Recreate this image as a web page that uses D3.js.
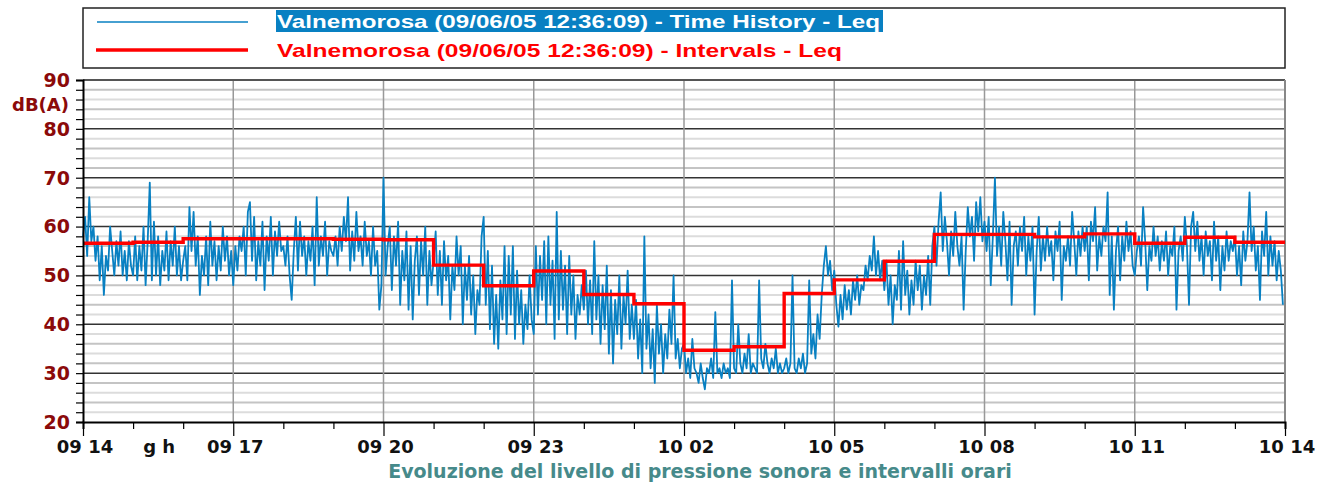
<!DOCTYPE html>
<html>
<head>
<meta charset="utf-8">
<script src="https://cdn.jsdelivr.net/npm/d3@7"></script>
<style>
  body { margin: 0; background: #fff; }
  svg { display: block; }
</style>
</head>
<body>
<div id="chart"></div>
<script>
// hourly tick labels (day hour), from 09 14 to 10 14
const hourLabels = ["09 14", "09 15", "09 16", "09 17", "09 18", "09 19", "09 20", "09 21", "09 22", "09 23",
  "10 00", "10 01", "10 02", "10 03", "10 04", "10 05", "10 06", "10 07", "10 08", "10 09", "10 10",
  "10 11", "10 12", "10 13", "10 14"];

// hourly Leq (red step line), dB(A)
const intervalLeq = [56.6, 56.8, 57.5, 57.5, 57.5, 57.4, 57.3, 52.1, 47.9, 50.9, 46.1, 44.2,
  34.7, 35.4, 46.3, 49.1, 52.9, 58.4, 58.4, 57.9, 58.5, 56.6, 57.8, 56.8];

// time history Leq, 2.5 minute steps (24 per hour), dB(A)
const historyLeq = [
  58, 62, 54, 66, 57, 60, 53, 58, 49, 56, 46, 54, 51, 60, 55, 50, 57, 52, 59, 50, 55, 49, 57, 52,
  50, 58, 49, 56, 51, 60, 48, 57, 69, 49, 61, 50, 58, 48, 55, 51, 59, 49, 57, 52, 60, 50, 56, 49,
  53, 56, 49, 64, 55, 63, 52, 58, 46, 54, 50, 58, 48, 61, 52, 57, 49, 56, 51, 60, 53, 58, 50, 55,
  48, 56, 51, 58, 55, 60, 50, 63, 65, 53, 62, 49, 57, 52, 61, 47, 58, 53, 62, 50, 59, 54, 61, 55,
  56, 52, 58, 50, 45, 55, 62, 51, 61, 54, 58, 50, 57, 53, 60, 48, 66, 52, 58, 54, 61, 50, 57, 55,
  54, 58, 52, 60, 55, 62, 57, 66, 51, 59, 53, 63, 55, 58, 52, 61, 54, 57, 50, 60, 52, 55, 43, 48,
  70, 50, 56, 60, 47, 58, 52, 61, 44, 55, 49, 59, 43, 56, 41, 53, 58, 46, 57, 50, 60, 44, 55, 48,
  53, 59, 46, 55, 44, 57, 49, 54, 41, 52, 47, 58, 50, 56, 40, 52, 45, 54, 42, 50, 38, 47, 44, 58,
  62, 44, 55, 39, 52, 36, 46, 35, 49, 41, 56, 38, 54, 42, 56, 37, 51, 40, 47, 36, 44, 39, 50, 41,
  38, 56, 42, 54, 45, 57, 40, 58, 44, 53, 37, 63, 41, 55, 43, 52, 38, 54, 42, 50, 37, 46, 42, 48,
  43, 51, 40, 49, 38, 57, 41, 50, 36, 48, 39, 52, 34, 47, 32, 45, 38, 50, 35, 46, 40, 51, 37, 44,
  37, 45, 33, 41, 30, 58, 35, 42, 31, 39, 28, 44, 34, 40, 30, 38, 33, 43, 36, 50, 33, 37, 31, 35,
  36, 30, 33, 29, 37, 31, 30, 28, 32, 29, 26.7, 31, 30, 33, 29, 42.5, 30, 31, 29, 32, 30, 31, 29, 49,
  31, 30, 40, 32, 30, 34, 31, 38, 30, 32, 31, 30, 49, 33, 31, 36, 32, 30, 33, 31, 35, 30, 32, 30,
  31, 33, 30, 32, 50, 31, 30, 33, 31, 34, 30, 32, 49, 34, 38, 33, 42, 37, 46, 52, 56, 50, 53, 47,
  51, 44, 39.5, 46, 41, 48, 43, 47, 42, 49, 45, 50, 44, 48, 47, 52, 49, 54, 51, 58, 50, 55, 49, 53,
  47, 53, 44, 50, 40, 48, 45, 55, 43, 57, 46, 51, 42, 49, 44, 53, 47, 52, 43, 50, 46, 54, 44, 56,
  60, 52, 61, 67, 55, 62, 57, 50, 59, 54, 63, 56, 52, 58, 43, 55, 64, 58, 62, 53, 65, 59, 66, 57,
  61, 55, 62, 48, 58, 70, 54, 60, 52, 63, 57, 49, 61, 44, 56, 59, 52, 60, 55, 62, 50, 58, 53, 60,
  42, 55, 62, 51, 58, 53, 60, 54, 57, 49, 59, 55, 61, 45, 56, 53, 58, 52, 63, 57, 50, 59, 54, 60,
  55, 60, 49, 61, 57, 64, 51, 58, 54, 60, 57, 67, 46, 58, 43, 55, 60, 49, 58, 53, 61, 55, 59, 52,
  50, 55, 58, 52, 64, 57, 47, 56, 53, 60, 54, 58, 51, 57, 53, 59, 50, 56, 54, 60, 43, 55, 58, 53,
  62, 56, 44, 60, 63, 55, 61, 53, 58, 50, 59, 54, 57, 49, 61, 53, 58, 47, 56, 51, 59, 53, 57, 55,
  58, 50, 56, 48, 59, 53, 57, 67, 55, 60, 51, 56, 45, 59, 54, 63, 50, 58, 52, 57, 49, 55, 51, 44
];

const legendLabels = [
  "Valnemorosa (09/06/05 12:36:09) - Time History - Leq",
  "Valnemorosa (09/06/05 12:36:09) - Intervals - Leq"
];
const yTicks = [20, 30, 40, 50, 60, 70, 80, 90];
const xTitle = "Evoluzione del livello di pressione sonora e intervalli orari";

const W = 1335, H = 487;
const margin = { top: 80, right: 50, bottom: 65, left: 83 };
const width = W - margin.left - margin.right,
  height = H - margin.top - margin.bottom;

const svg = d3.select("#chart").append("svg")
  .attr("width", W)
  .attr("height", H);

// legend box
const legend = svg.append("g");
legend.append("rect")
  .attr("x", 83).attr("y", 8)
  .attr("width", width).attr("height", 60)
  .attr("fill", "#fff")
  .attr("stroke", "#222")
  .attr("stroke-width", 1.5);
legend.append("line")
  .attr("x1", 97).attr("x2", 248).attr("y1", 22).attr("y2", 22)
  .attr("stroke", "#0880c2").attr("stroke-width", 1.5);
legend.append("line")
  .attr("x1", 96).attr("x2", 248).attr("y1", 50).attr("y2", 50)
  .attr("stroke", "#ff0000").attr("stroke-width", 3.5);
legend.append("rect")
  .attr("x", 276).attr("y", 10)
  .attr("width", 607).attr("height", 22)
  .attr("fill", "#0880c2");
legend.append("text")
  .attr("x", 277).attr("y", 28)
  .attr("textLength", 603).attr("lengthAdjust", "spacingAndGlyphs")
  .style("font", "bold 19px 'Liberation Sans', Arial, sans-serif")
  .attr("fill", "#fff")
  .text(legendLabels[0]);
legend.append("text")
  .attr("x", 277).attr("y", 57)
  .attr("textLength", 565).attr("lengthAdjust", "spacingAndGlyphs")
  .style("font", "bold 19px 'Liberation Sans', Arial, sans-serif")
  .attr("fill", "#ff0000")
  .text(legendLabels[1]);

const g = svg.append("g")
  .attr("transform", `translate(${margin.left}, ${margin.top})`);

// scales
const x = d3.scaleLinear().domain([0, 24]).range([0, width]);
const y = d3.scaleLinear().domain([20, 90]).range([height, 0]);

// horizontal grid, every 2 dB
const minorVals = d3.range(22, 90, 2);
g.append("g").selectAll("line")
  .data(minorVals)
  .join("line")
  .attr("x1", 0).attr("x2", width)
  .attr("y1", (d) => y(d)).attr("y2", (d) => y(d))
  .attr("stroke", (d) => d % 10 === 0 ? "#333" : (d % 4 === 0 ? "#c4c4c4" : "#dcdcdc"))
  .attr("stroke-width", (d) => d % 10 === 0 ? 1.5 : 2);

// vertical grid every 3 hours
g.append("g").selectAll("line")
  .data(d3.range(3, 24, 3))
  .join("line")
  .attr("x1", (d) => x(d)).attr("x2", (d) => x(d))
  .attr("y1", 0).attr("y2", height)
  .attr("stroke", "#999")
  .attr("stroke-width", 1.5);

// frame top / right
g.append("line").attr("x1", 0).attr("x2", width).attr("y1", 0).attr("y2", 0)
  .attr("stroke", "#555").attr("stroke-width", 2);
g.append("line").attr("x1", width).attr("x2", width).attr("y1", 0).attr("y2", height)
  .attr("stroke", "#888").attr("stroke-width", 2);

// time history line
const perHour = 24;
const thLine = d3.line()
  .x((d, i) => x(i / perHour))
  .y((d) => y(d));
g.append("path")
  .datum(historyLeq)
  .attr("fill", "none")
  .attr("stroke", "#0880c2")
  .attr("stroke-width", 1.8)
  .attr("stroke-linejoin", "round")
  .attr("d", thLine);

// interval step line
const stepData = intervalLeq.map((v, i) => [i, v]).concat([[24, intervalLeq[23]]]);
const stepLine = d3.line()
  .x((d) => x(d[0]))
  .y((d) => y(d[1]))
  .curve(d3.curveStepAfter);
g.append("path")
  .datum(stepData)
  .attr("fill", "none")
  .attr("stroke", "#ff0000")
  .attr("stroke-width", 3.4)
  .attr("d", stepLine);

// y axis
const yAxis = g.append("g")
  .call(d3.axisLeft(y).tickValues(d3.range(20, 91, 2)).tickSize(7).tickFormat(""));
yAxis.select(".domain").attr("stroke", "#000").attr("stroke-width", 2);
yAxis.selectAll(".tick line").attr("stroke", "#000").attr("stroke-width", 1.2);

g.append("g").selectAll("text")
  .data(yTicks)
  .join("text")
  .attr("x", -13)
  .attr("y", (d) => y(d))
  .attr("dy", "0.36em")
  .attr("text-anchor", "end")
  .style("font", "bold 19px 'DejaVu Sans', Verdana, sans-serif")
  .attr("fill", "#8b0a0a")
  .text((d) => d);

g.append("text")
  .attr("x", -14).attr("y", y(85))
  .attr("dy", "0.36em")
  .attr("text-anchor", "end")
  .style("font", "bold 18px 'DejaVu Sans', Verdana, sans-serif")
  .attr("fill", "#8b0a0a")
  .text("dB(A)");

// x axis
const xAxis = g.append("g")
  .attr("transform", `translate(0, ${height})`)
  .call(d3.axisBottom(x).tickValues(d3.range(0, 25, 1))
    .tickSize(7).tickFormat(""));
xAxis.select(".domain").attr("stroke", "#000").attr("stroke-width", 2);
xAxis.selectAll(".tick line")
  .attr("stroke", "#000")
  .attr("stroke-width", 1.2)
  .attr("y2", (d) => d % 3 === 0 ? 14 : 7);

g.append("g").selectAll("text")
  .data(d3.range(0, 25, 3))
  .join("text")
  .attr("x", (d) => x(d) + 2)
  .attr("y", height + 31)
  .attr("text-anchor", "middle")
  .style("font", "bold 18px 'DejaVu Sans', Verdana, sans-serif")
  .attr("fill", "#111")
  .text((d) => hourLabels[d]);

g.append("text")
  .attr("x", x(1.52)).attr("y", height + 31)
  .attr("text-anchor", "middle")
  .style("font", "bold 18px 'DejaVu Sans', Verdana, sans-serif")
  .attr("fill", "#111")
  .text("g h");

svg.append("text")
  .attr("x", 700).attr("y", 478)
  .attr("text-anchor", "middle")
  .style("font", "bold 19px 'DejaVu Sans', Verdana, sans-serif")
  .attr("fill", "#468a8a")
  .text(xTitle);
</script>
</body>
</html>
